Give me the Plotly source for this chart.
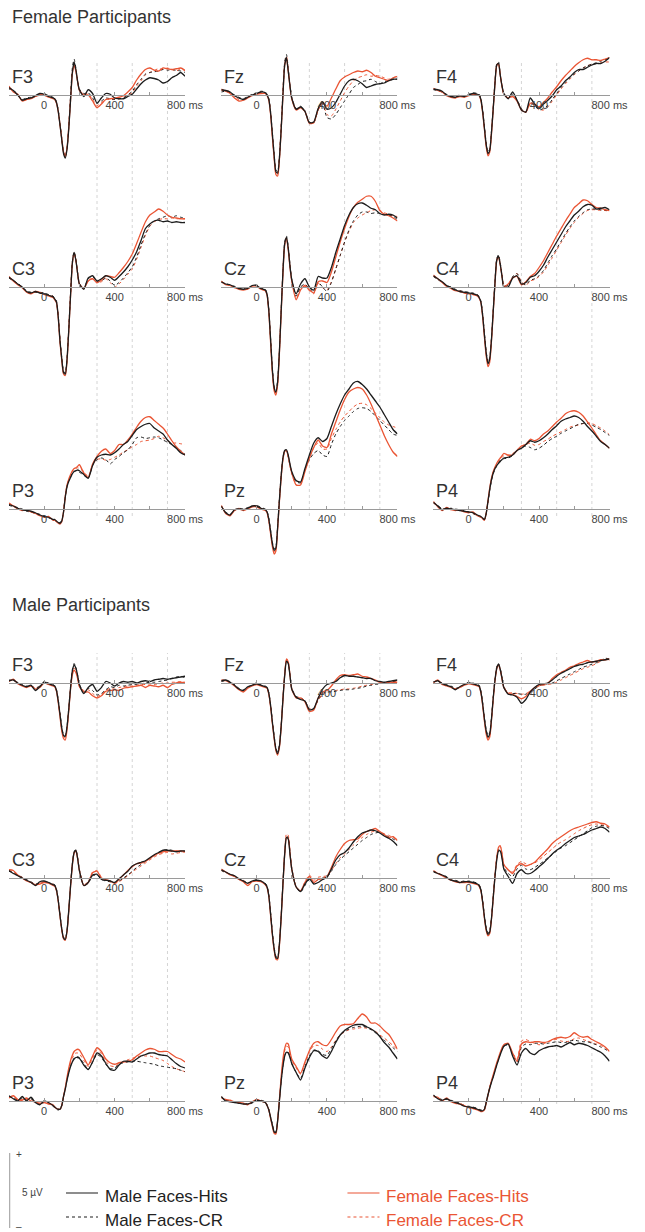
import plotly.graph_objects as go

# ---------------- time axis (ms) ----------------
T = [-200, -175, -150, -125, -100, -75, -50, -25, 0, 25, 50,
     60, 70, 80, 90, 100, 110, 120, 130, 140, 150, 160, 170, 180, 190, 200,
     225, 250, 275, 300, 325, 350, 375, 400, 425, 450, 475, 500, 525, 550, 575, 600,
     625, 650, 675, 700, 725, 750, 775, 800]

# ---------------- amplitudes (µV) ----------------
# fem = Female Participants, mal = Male Participants
# mhit = Male Faces-Hits, mcr = Male Faces-CR, fhit = Female Faces-Hits, fcr = Female Faces-CR

fem_F3_mhit = [0.5,0.3,0.0,-0.35,-0.25,-0.2,-0.05,0.1,0.05,-0.1,-0.2] + [-0.25,-0.5,-1.1,-2.0,-3.0,-3.9,-4.2,-3.6,-2.2,-0.3,1.5,2.2,1.7,0.9,0.35] + [-0.1,0.35,0.1,-0.55,-0.2,0.1,0.05,-0.2,-0.25,-0.25,-0.1,0.05,0.4,0.75,1.0,1.15,1.1,1.0,0.8,0.9,1.15,1.3,1.5,1.25]
fem_F3_mcr = [0.4,0.35,-0.05,-0.3,-0.2,-0.15,-0.1,0.05,0.1,-0.05,-0.15] + [-0.2,-0.45,-1.0,-1.9,-2.9,-3.8,-4.1,-3.5,-2.0,0.0,1.8,2.4,1.8,1.0,0.4] + [0.1,0.15,-0.2,-0.55,-0.4,-0.2,-0.25,-0.3,-0.25,-0.2,0.0,0.25,0.7,1.05,1.4,1.5,1.55,1.6,1.7,1.65,1.7,1.65,1.6,1.5]
fem_F3_fhit = [0.6,0.2,0.05,-0.4,-0.3,-0.25,-0.1,0.0,0.0,-0.15,-0.25] + [-0.3,-0.55,-1.1,-2.0,-2.9,-3.8,-4.1,-3.5,-2.1,-0.3,1.4,2.0,1.6,0.9,0.3] + [0.0,0.0,-0.4,-0.85,-0.6,-0.3,-0.25,-0.2,-0.15,-0.05,0.2,0.5,1.0,1.4,1.7,1.8,1.65,1.6,1.8,1.75,1.7,1.75,1.8,1.65]
fem_F3_fcr = [0.45,0.25,0.0,-0.3,-0.35,-0.2,-0.1,0.05,0.05,-0.1,-0.2] + [-0.25,-0.5,-1.05,-1.95,-2.95,-3.85,-4.15,-3.55,-2.1,-0.2,1.6,2.1,1.65,0.9,0.35] + [0.05,0.1,-0.3,-0.7,-0.5,-0.3,-0.3,-0.3,-0.25,-0.15,0.0,0.15,0.6,0.95,1.35,1.5,1.65,1.75,1.7,1.8,1.7,1.6,1.75,1.6]

fem_Fz_mhit = [0.35,0.3,0.2,-0.05,-0.2,-0.3,-0.15,0.0,0.1,0.2,0.15] + [0.0,-0.3,-1.2,-2.6,-4.0,-5.1,-5.2,-4.2,-2.3,0.0,2.0,2.5,1.6,0.6,-0.2] + [-0.95,-0.8,-1.1,-1.85,-1.8,-0.9,-0.45,-0.95,-0.85,-0.5,0.05,0.6,0.95,1.05,0.95,0.75,0.5,0.6,0.7,0.75,0.8,0.95,1.05,1.05]
fem_Fz_mcr = [0.2,0.25,0.15,0.0,-0.15,-0.25,-0.1,0.05,0.15,0.25,0.2] + [0.05,-0.25,-1.1,-2.5,-3.9,-5.0,-5.1,-4.1,-2.1,0.2,2.2,2.7,1.8,0.7,-0.15] + [-0.9,-0.75,-1.05,-1.8,-1.85,-1.0,-0.6,-1.5,-1.6,-1.3,-0.85,-0.4,0.05,0.5,0.7,0.9,0.95,1.05,0.9,0.75,0.9,0.95,1.05,1.15]
fem_Fz_fhit = [0.4,0.25,0.1,-0.2,-0.4,-0.35,-0.2,-0.05,0.05,0.1,0.1] + [-0.05,-0.35,-1.3,-2.8,-4.2,-5.3,-5.4,-4.3,-2.3,0.0,2.0,2.45,1.6,0.55,-0.25] + [-1.0,-0.85,-1.1,-1.9,-1.85,-0.95,-0.5,-0.75,-0.2,0.4,0.95,1.2,1.35,1.5,1.6,1.55,1.65,1.5,1.25,1.15,1.05,0.95,1.15,1.25]
fem_Fz_fcr = [0.3,0.3,0.2,-0.1,-0.3,-0.3,-0.15,0.0,0.1,0.15,0.1] + [0.0,-0.3,-1.2,-2.7,-4.1,-5.2,-5.3,-4.2,-2.2,0.1,2.1,2.6,1.7,0.6,-0.2] + [-0.95,-0.8,-1.1,-1.85,-1.85,-1.0,-0.55,-1.3,-1.4,-0.95,-0.4,0.15,0.6,0.95,1.15,1.25,1.35,1.25,1.3,1.25,1.15,1.05,1.15,1.25]

fem_F4_mhit = [0.4,0.35,0.25,0.0,-0.1,-0.15,-0.05,-0.1,0.0,0.1,0.05] + [0.0,-0.3,-1.1,-2.2,-3.3,-3.9,-3.7,-2.5,-0.9,0.8,2.0,2.1,1.3,0.6,0.1] + [-0.25,0.2,-0.35,-1.0,-1.15,-0.2,-0.6,-0.9,-0.6,-0.35,-0.05,0.35,0.6,0.95,1.2,1.5,1.7,1.7,1.85,2.0,2.1,2.1,2.25,2.5]
fem_F4_mcr = [0.35,0.3,0.2,0.05,-0.05,-0.1,0.0,-0.05,0.05,0.15,0.1] + [0.05,-0.25,-1.0,-2.1,-3.2,-3.8,-3.6,-2.4,-0.8,0.9,2.1,2.2,1.4,0.6,0.1] + [-0.2,0.05,-0.3,-0.9,-1.1,-0.5,-0.7,-1.0,-0.9,-0.7,-0.3,0.1,0.5,0.85,1.15,1.4,1.6,1.8,1.95,2.05,2.15,2.25,2.35,2.45]
fem_F4_fhit = [0.45,0.3,0.2,-0.05,-0.15,-0.2,-0.1,-0.15,-0.05,0.05,0.0] + [-0.05,-0.35,-1.2,-2.3,-3.45,-4.05,-3.8,-2.6,-0.9,0.8,1.95,2.05,1.3,0.55,0.05] + [-0.2,-0.1,-0.4,-1.0,-1.15,-0.55,-0.6,-0.8,-0.5,-0.2,0.2,0.55,0.95,1.3,1.6,1.9,2.15,2.35,2.45,2.35,2.35,2.3,2.4,2.5]
fem_F4_fcr = [0.4,0.3,0.2,0.0,-0.1,-0.15,-0.05,-0.1,0.0,0.1,0.05] + [0.0,-0.3,-1.1,-2.2,-3.35,-3.95,-3.7,-2.5,-0.85,0.85,2.05,2.15,1.35,0.6,0.1] + [-0.15,-0.05,-0.35,-0.95,-1.1,-0.55,-0.7,-1.0,-1.0,-0.8,-0.4,0.0,0.4,0.75,1.05,1.35,1.6,1.8,1.95,2.05,2.1,2.15,2.2,2.2]

fem_C3_mhit = [0.65,0.45,0.2,0.0,-0.3,-0.4,-0.3,-0.4,-0.45,-0.55,-0.65] + [-0.8,-1.0,-2.0,-3.6,-4.8,-5.7,-5.8,-4.8,-2.8,-0.5,1.6,2.3,1.8,0.9,0.2] + [-0.15,0.6,0.75,0.4,0.55,0.75,0.65,0.45,0.7,1.0,1.35,1.8,2.35,3.1,3.9,4.2,4.4,4.45,4.35,4.4,4.3,4.35,4.3,4.3]
fem_C3_mcr = [0.6,0.4,0.25,0.0,-0.25,-0.35,-0.35,-0.35,-0.4,-0.5,-0.6] + [-0.75,-0.95,-1.9,-3.5,-4.7,-5.6,-5.75,-4.7,-2.7,-0.4,1.7,2.35,1.85,0.95,0.25] + [-0.1,0.55,0.7,0.35,0.4,0.6,0.4,0.1,0.3,0.6,0.95,1.35,2.0,2.8,3.55,4.1,4.4,4.55,4.65,4.75,4.65,4.75,4.65,4.6]
fem_C3_fhit = [0.7,0.4,0.15,-0.05,-0.35,-0.45,-0.3,-0.35,-0.5,-0.6,-0.7] + [-0.85,-1.05,-2.05,-3.7,-4.9,-5.8,-5.9,-4.9,-2.85,-0.55,1.55,2.25,1.8,0.9,0.2] + [-0.1,0.4,0.55,0.3,0.45,0.75,0.7,0.65,0.95,1.3,1.7,2.2,2.9,3.65,4.35,4.8,5.0,5.2,5.05,4.8,4.65,4.6,4.55,4.55]
fem_C3_fcr = [0.6,0.45,0.2,0.0,-0.3,-0.4,-0.35,-0.4,-0.45,-0.55,-0.6] + [-0.8,-1.0,-1.95,-3.55,-4.75,-5.65,-5.75,-4.75,-2.75,-0.45,1.65,2.3,1.8,0.9,0.2] + [-0.1,0.4,0.55,0.25,0.35,0.55,0.3,0.0,0.2,0.5,0.85,1.2,1.85,2.65,3.45,4.05,4.35,4.5,4.55,4.55,4.6,4.55,4.55,4.55]

fem_Cz_mhit = [0.35,0.2,0.15,0.0,-0.1,-0.15,-0.1,0.1,0.1,-0.1,-0.2] + [-0.5,-1.6,-3.5,-5.5,-6.7,-7.0,-6.3,-4.3,-1.6,1.0,2.9,3.3,2.6,1.4,0.5] + [-0.45,0.2,0.55,0.0,-0.2,0.7,0.6,0.6,1.3,2.3,3.2,4.1,4.8,5.3,5.55,5.6,5.45,5.25,5.15,4.9,4.8,4.85,4.8,4.6]
fem_Cz_mcr = [0.3,0.25,0.1,0.05,-0.05,-0.1,-0.15,0.05,0.15,-0.05,-0.15] + [-0.45,-1.5,-3.4,-5.4,-6.6,-6.95,-6.2,-4.2,-1.5,1.1,3.0,3.4,2.7,1.5,0.5] + [-0.6,0.0,0.2,-0.15,-0.35,0.3,0.0,-0.3,0.3,1.2,2.1,3.0,3.8,4.4,4.8,5.0,5.0,4.9,4.95,4.9,4.85,4.8,4.7,4.5]
fem_Cz_fhit = [0.4,0.15,0.1,-0.05,-0.15,-0.2,-0.15,0.05,0.05,-0.15,-0.25] + [-0.55,-1.7,-3.7,-5.7,-6.9,-7.2,-6.5,-4.4,-1.7,0.9,2.8,3.25,2.5,1.3,0.4] + [-0.85,-0.2,0.1,-0.2,-0.4,0.35,0.4,0.3,1.0,2.0,3.0,3.9,4.7,5.3,5.65,5.85,6.05,6.05,5.7,5.1,4.85,4.75,4.6,4.4]
fem_Cz_fcr = [0.35,0.2,0.1,0.0,-0.1,-0.15,-0.1,0.05,0.1,-0.1,-0.2] + [-0.5,-1.6,-3.6,-5.6,-6.8,-7.1,-6.4,-4.3,-1.6,1.0,2.9,3.3,2.6,1.4,0.45] + [-0.75,-0.15,0.05,-0.25,-0.45,0.25,-0.05,-0.2,0.35,1.2,2.1,3.0,3.7,4.3,4.6,4.8,4.95,5.1,5.15,5.1,4.95,4.85,4.75,4.7]

fem_C4_mhit = [0.75,0.55,0.35,0.1,-0.05,-0.2,-0.3,-0.35,-0.4,-0.45,-0.55] + [-0.7,-1.0,-1.9,-3.2,-4.4,-5.1,-4.8,-3.5,-1.6,0.3,1.8,2.05,1.5,0.7,0.0] + [0.0,0.6,0.75,0.2,0.3,0.65,0.75,1.05,1.45,2.0,2.5,3.0,3.5,4.0,4.4,4.8,5.05,5.35,5.5,5.45,5.2,5.25,5.3,5.15]
fem_C4_mcr = [0.7,0.5,0.3,0.1,0.0,-0.15,-0.25,-0.3,-0.35,-0.4,-0.5] + [-0.65,-0.95,-1.8,-3.1,-4.3,-5.0,-4.7,-3.4,-1.5,0.4,1.9,2.15,1.6,0.8,0.1] + [0.1,0.7,0.9,0.3,0.15,0.45,0.55,0.75,1.1,1.6,2.1,2.55,3.05,3.55,4.0,4.4,4.7,4.95,5.15,5.2,5.2,5.15,5.1,5.1]
fem_C4_fhit = [0.8,0.55,0.3,0.05,-0.1,-0.25,-0.3,-0.4,-0.45,-0.5,-0.6] + [-0.75,-1.05,-2.0,-3.35,-4.6,-5.3,-5.0,-3.6,-1.65,0.25,1.75,2.0,1.45,0.7,0.05] + [0.2,0.6,0.7,0.15,0.35,0.7,0.9,1.3,1.75,2.3,2.85,3.4,3.9,4.4,4.85,5.3,5.55,5.8,5.75,5.5,5.3,5.25,5.15,5.1]
fem_C4_fcr = [0.7,0.55,0.35,0.1,-0.05,-0.2,-0.25,-0.35,-0.4,-0.45,-0.5] + [-0.7,-1.0,-1.85,-3.15,-4.35,-5.05,-4.75,-3.45,-1.55,0.35,1.85,2.1,1.55,0.75,0.05] + [0.1,0.65,0.9,0.35,0.1,0.4,0.5,0.7,1.0,1.45,1.95,2.45,2.95,3.45,3.9,4.3,4.65,4.9,5.1,5.15,5.15,5.1,5.1,5.05]

fem_P3_mhit = [0.3,0.2,0.05,-0.05,-0.1,-0.15,-0.25,-0.4,-0.5,-0.55,-0.7] + [-0.7,-0.8,-0.9,-0.95,-0.8,-0.2,0.8,1.5,1.85,2.1,2.35,2.5,2.55,2.6,2.55] + [2.3,2.05,2.9,3.45,3.6,3.65,3.6,3.75,4.0,4.3,4.5,4.9,5.3,5.5,5.65,5.7,5.4,5.2,5.0,4.6,4.3,4.05,3.75,3.6]
fem_P3_mcr = [0.25,0.15,0.1,0.0,-0.15,-0.2,-0.3,-0.35,-0.45,-0.6,-0.65] + [-0.75,-0.85,-0.9,-0.9,-0.75,-0.15,0.85,1.55,1.9,2.15,2.4,2.5,2.55,2.5,2.45] + [2.25,2.05,2.9,3.3,3.4,3.3,3.0,3.3,3.5,3.75,3.95,4.3,4.75,4.8,4.7,4.75,4.8,4.75,4.6,4.45,4.3,4.1,3.9,3.65]
fem_P3_fhit = [0.4,0.2,0.0,-0.1,-0.05,-0.2,-0.3,-0.45,-0.55,-0.5,-0.75] + [-0.75,-0.85,-0.95,-1.0,-0.85,-0.2,0.85,1.6,2.0,2.3,2.55,2.7,2.75,2.85,2.95] + [2.4,2.1,3.0,3.5,3.85,4.0,3.7,3.9,4.3,4.3,4.6,5.0,5.45,5.85,6.1,6.15,5.9,5.65,5.4,5.0,4.55,4.15,3.85,3.6]
fem_P3_fcr = [0.35,0.25,0.05,-0.05,-0.1,-0.2,-0.25,-0.4,-0.5,-0.55,-0.7] + [-0.7,-0.8,-0.9,-0.95,-0.8,-0.15,0.9,1.6,1.95,2.25,2.5,2.65,2.7,2.75,2.7] + [2.5,2.15,2.95,3.3,3.35,3.25,3.3,3.45,3.6,3.8,3.95,4.15,4.3,4.5,4.55,4.6,4.7,4.85,4.75,4.55,4.4,4.4,4.35,4.3]

fem_Pz_mhit = [0.2,-0.25,-0.4,-0.05,0.0,-0.05,0.05,0.2,0.2,0.05,-0.05] + [-0.2,-0.7,-1.5,-2.3,-2.75,-2.6,-1.2,0.6,2.2,3.4,3.9,3.95,3.6,3.0,2.5] + [1.9,1.8,2.7,3.6,4.4,4.75,4.5,4.7,5.5,6.3,7.0,7.6,8.0,8.4,8.5,8.3,8.0,7.6,7.2,6.8,6.3,5.8,5.3,5.0]
fem_Pz_mcr = [0.15,-0.2,-0.35,-0.1,0.05,0.0,0.1,0.15,0.25,0.1,0.0] + [-0.15,-0.6,-1.4,-2.2,-2.65,-2.5,-1.1,0.7,2.3,3.45,3.9,3.9,3.5,2.9,2.4] + [1.8,1.75,2.6,3.3,3.7,3.9,3.6,3.5,4.3,5.0,5.5,5.9,6.2,6.5,6.7,6.75,6.7,6.5,6.2,5.9,5.6,5.3,5.0,4.9]
fem_Pz_fhit = [0.25,-0.3,-0.45,-0.1,0.0,-0.1,0.0,0.15,0.15,0.0,-0.1] + [-0.25,-0.8,-1.65,-2.5,-3.0,-2.8,-1.3,0.5,2.1,3.3,3.85,3.9,3.5,2.9,2.4] + [1.6,1.6,2.5,3.4,4.1,4.6,4.2,4.1,5.0,5.8,6.6,7.3,7.8,8.0,8.1,8.0,7.6,7.0,6.3,5.6,4.9,4.3,3.8,3.5]
fem_Pz_fcr = [0.2,-0.25,-0.4,-0.05,0.05,-0.05,0.05,0.2,0.2,0.05,-0.05] + [-0.2,-0.75,-1.55,-2.4,-2.85,-2.7,-1.25,0.55,2.15,3.35,3.85,3.9,3.5,2.9,2.4] + [1.6,1.7,2.6,3.4,4.1,4.4,4.0,4.0,4.7,5.3,5.8,6.2,6.5,6.8,7.0,7.05,6.95,6.7,6.4,6.1,5.8,5.6,5.5,5.4]

fem_P4_mhit = [0.45,0.2,-0.05,0.05,0.0,-0.05,-0.1,-0.15,-0.2,-0.25,-0.4] + [-0.45,-0.5,-0.6,-0.7,-0.3,0.5,1.3,1.95,2.4,2.7,2.9,3.05,3.2,3.3,3.4] + [3.45,3.6,3.9,4.05,4.3,4.55,4.45,4.55,4.75,5.0,5.3,5.55,5.85,6.0,6.1,6.2,6.1,5.85,5.5,5.2,4.85,4.5,4.3,4.05]
fem_P4_mcr = [0.4,0.25,0.0,0.0,0.05,0.0,-0.05,-0.1,-0.2,-0.3,-0.45] + [-0.5,-0.55,-0.65,-0.7,-0.35,0.45,1.25,1.9,2.35,2.65,2.85,3.0,3.15,3.25,3.35] + [3.4,3.55,3.9,4.1,4.2,4.1,3.95,4.05,4.25,4.5,4.7,4.85,5.05,5.2,5.35,5.5,5.65,5.7,5.7,5.6,5.45,5.3,5.1,4.9]
fem_P4_fhit = [0.5,0.15,-0.1,0.1,-0.05,-0.1,-0.05,-0.2,-0.25,-0.2,-0.45] + [-0.5,-0.55,-0.65,-0.75,-0.3,0.55,1.4,2.05,2.5,2.8,3.05,3.25,3.4,3.55,3.7] + [3.6,3.6,3.9,4.2,4.3,4.65,4.55,4.7,5.0,5.2,5.5,5.8,6.05,6.35,6.5,6.55,6.45,6.2,5.8,5.4,4.95,4.55,4.3,4.05]
fem_P4_fcr = [0.4,0.2,0.0,0.05,0.0,-0.05,-0.1,-0.15,-0.2,-0.3,-0.4] + [-0.45,-0.5,-0.6,-0.7,-0.3,0.5,1.35,2.0,2.45,2.75,2.95,3.15,3.3,3.45,3.55] + [3.55,3.7,3.95,4.2,4.3,4.4,4.25,4.3,4.5,4.65,4.85,5.0,5.15,5.3,5.45,5.55,5.6,5.7,5.75,5.7,5.55,5.4,5.2,4.95]

mal_F3_mhit = [0.15,0.2,0.0,-0.15,-0.25,-0.15,-0.5,-0.25,0.05,-0.05,-0.15] + [-0.2,-0.5,-1.2,-2.1,-3.0,-3.5,-3.55,-2.9,-1.7,-0.3,0.8,1.2,1.0,0.5,-0.1] + [-0.7,-0.3,-0.1,-0.55,-0.3,0.1,0.0,-0.2,0.0,0.1,0.05,0.1,0.0,0.1,0.15,0.1,0.2,0.25,0.3,0.25,0.3,0.35,0.4,0.45]
mal_F3_mcr = [0.2,0.15,0.05,-0.1,-0.2,-0.2,-0.35,-0.2,0.1,0.0,-0.1] + [-0.2,-0.45,-1.1,-2.0,-2.9,-3.45,-3.5,-2.85,-1.6,-0.2,0.9,1.3,1.05,0.5,-0.1] + [-0.6,-0.35,-0.5,-0.8,-0.7,-0.45,-0.25,-0.3,-0.15,-0.2,-0.15,-0.1,-0.1,-0.05,0.0,0.05,0.05,0.1,0.15,0.2,0.3,0.4,0.45,0.35]
mal_F3_fhit = [0.1,0.25,-0.05,-0.2,-0.3,-0.2,-0.4,-0.3,0.0,-0.1,-0.2] + [-0.25,-0.55,-1.3,-2.25,-3.2,-3.7,-3.8,-3.1,-1.8,-0.4,0.55,0.85,0.7,0.3,-0.25] + [-0.6,-0.6,-0.85,-1.0,-0.85,-0.55,-0.5,-0.45,-0.5,-0.35,-0.3,-0.25,-0.2,-0.15,-0.3,-0.15,-0.2,-0.25,-0.15,-0.3,-0.1,0.0,0.05,0.0]
mal_F3_fcr = [0.15,0.2,0.0,-0.15,-0.25,-0.2,-0.3,-0.25,0.05,-0.05,-0.15] + [-0.2,-0.5,-1.2,-2.15,-3.1,-3.6,-3.65,-3.0,-1.75,-0.35,0.7,1.0,0.85,0.4,-0.2] + [-0.5,-0.45,-0.7,-0.9,-0.75,-0.5,-0.35,-0.4,-0.3,-0.25,-0.2,-0.2,-0.15,-0.1,-0.1,-0.05,-0.1,-0.05,0.0,0.0,0.05,0.05,0.1,0.05]

mal_Fz_mhit = [0.15,0.2,0.05,-0.15,-0.4,-0.5,-0.25,-0.15,-0.05,-0.15,-0.25] + [-0.3,-0.7,-1.5,-2.6,-3.6,-4.4,-4.7,-4.2,-2.9,-1.1,0.5,1.45,1.3,0.5,-0.4] + [-0.95,-1.1,-1.2,-1.8,-1.7,-1.0,-0.4,-0.1,0.0,0.1,0.35,0.5,0.45,0.45,0.4,0.35,0.3,0.3,0.15,0.1,0.05,0.1,0.15,0.2]
mal_Fz_mcr = [0.1,0.15,0.1,-0.1,-0.35,-0.45,-0.3,-0.1,0.0,-0.1,-0.2] + [-0.3,-0.65,-1.45,-2.5,-3.5,-4.3,-4.6,-4.1,-2.8,-1.0,0.6,1.5,1.35,0.55,-0.35] + [-0.9,-1.0,-1.2,-1.75,-1.7,-1.1,-0.7,-0.6,-0.6,-0.55,-0.5,-0.45,-0.45,-0.4,-0.35,-0.3,-0.2,-0.15,-0.1,-0.05,0.0,0.05,0.1,0.15]
mal_Fz_fhit = [0.2,0.15,0.0,-0.2,-0.45,-0.6,-0.35,-0.2,-0.1,-0.2,-0.3] + [-0.35,-0.75,-1.6,-2.7,-3.7,-4.5,-4.8,-4.3,-2.95,-1.1,0.55,1.6,1.4,0.55,-0.4] + [-1.0,-1.0,-1.25,-1.9,-1.8,-1.0,-0.6,-0.5,-0.2,0.2,0.5,0.55,0.5,0.55,0.6,0.45,0.4,0.3,0.2,0.05,0.0,0.05,0.05,0.05]
mal_Fz_fcr = [0.15,0.2,0.05,-0.1,-0.4,-0.5,-0.3,-0.15,-0.05,-0.15,-0.25] + [-0.3,-0.7,-1.5,-2.6,-3.6,-4.4,-4.7,-4.2,-2.85,-1.0,0.6,1.55,1.4,0.55,-0.35] + [-0.95,-0.95,-1.2,-1.7,-1.75,-1.15,-0.8,-0.6,-0.55,-0.5,-0.45,-0.4,-0.4,-0.35,-0.3,-0.2,-0.15,-0.1,-0.05,0.0,0.0,0.05,0.1,0.15]

mal_F4_mhit = [0.05,0.15,-0.05,-0.15,-0.25,-0.45,-0.25,-0.1,0.0,-0.05,-0.15] + [-0.2,-0.6,-1.4,-2.4,-3.2,-3.6,-3.4,-2.4,-1.0,0.2,1.0,1.25,0.9,0.3,-0.3] + [-0.75,-0.8,-0.95,-1.35,-1.1,-0.6,-0.3,-0.1,-0.05,0.0,0.2,0.45,0.65,0.8,0.95,1.1,1.2,1.25,1.35,1.4,1.45,1.5,1.55,1.6]
mal_F4_mcr = [0.1,0.1,0.0,-0.1,-0.2,-0.35,-0.3,-0.15,0.05,0.0,-0.1] + [-0.15,-0.55,-1.3,-2.3,-3.1,-3.5,-3.3,-2.3,-0.9,0.3,1.1,1.3,0.95,0.35,-0.25] + [-0.7,-0.7,-0.7,-0.75,-0.75,-0.6,-0.4,-0.2,-0.1,-0.05,0.0,0.15,0.3,0.45,0.6,0.75,0.9,1.05,1.15,1.25,1.35,1.5,1.65,1.6]
mal_F4_fhit = [0.0,0.2,-0.1,-0.2,-0.3,-0.4,-0.3,-0.15,-0.05,-0.1,-0.2] + [-0.25,-0.65,-1.5,-2.55,-3.4,-3.8,-3.6,-2.5,-1.05,0.15,0.95,1.2,0.85,0.25,-0.3] + [-0.7,-0.75,-0.9,-1.05,-0.9,-0.55,-0.3,-0.15,-0.1,0.0,0.3,0.55,0.7,0.85,1.05,1.15,1.3,1.4,1.5,1.4,1.45,1.55,1.55,1.6]
mal_F4_fcr = [0.05,0.15,-0.05,-0.15,-0.25,-0.4,-0.25,-0.1,0.0,-0.05,-0.15] + [-0.2,-0.6,-1.4,-2.45,-3.3,-3.7,-3.5,-2.45,-1.0,0.2,1.0,1.25,0.9,0.3,-0.25] + [-0.65,-0.65,-0.7,-0.75,-0.7,-0.55,-0.35,-0.2,-0.15,-0.1,-0.05,0.05,0.2,0.35,0.5,0.65,0.8,0.95,1.05,1.15,1.3,1.45,1.55,1.5]

mal_C3_mhit = [0.5,0.3,0.15,0.0,-0.15,-0.3,-0.5,-0.25,-0.2,-0.3,-0.45] + [-0.5,-0.8,-1.5,-2.5,-3.4,-4.0,-4.1,-3.5,-2.1,-0.5,0.9,1.7,1.85,1.3,0.5] + [-0.5,-0.3,0.2,0.25,-0.1,-0.15,-0.2,-0.3,-0.05,0.2,0.45,0.8,0.95,1.05,1.15,1.35,1.55,1.7,1.85,1.85,1.8,1.75,1.8,1.8]
mal_C3_mcr = [0.45,0.35,0.2,0.05,-0.1,-0.25,-0.4,-0.35,-0.25,-0.3,-0.4] + [-0.45,-0.75,-1.45,-2.45,-3.35,-3.95,-4.05,-3.45,-2.05,-0.45,0.95,1.75,1.9,1.35,0.55] + [-0.5,-0.35,0.15,0.2,-0.1,-0.2,-0.25,-0.3,-0.2,0.0,0.2,0.45,0.7,0.9,1.1,1.3,1.5,1.7,1.85,1.9,1.85,1.8,1.75,1.8]
mal_C3_fhit = [0.55,0.5,0.2,0.0,-0.2,-0.3,-0.45,-0.4,-0.3,-0.35,-0.5] + [-0.55,-0.85,-1.55,-2.55,-3.45,-4.05,-4.15,-3.55,-2.15,-0.55,0.85,1.65,1.8,1.3,0.5] + [-0.5,-0.3,0.35,0.45,0.0,-0.1,-0.2,-0.35,-0.1,0.2,0.5,0.75,0.95,1.0,1.1,1.3,1.5,1.65,1.75,1.8,1.8,1.8,1.8,1.75]
mal_C3_fcr = [0.5,0.4,0.15,0.05,-0.1,-0.3,-0.45,-0.3,-0.25,-0.3,-0.4] + [-0.5,-0.8,-1.5,-2.5,-3.4,-4.0,-4.1,-3.5,-2.1,-0.5,0.9,1.7,1.85,1.3,0.55] + [-0.45,-0.25,0.4,0.5,0.05,-0.15,-0.25,-0.35,-0.25,-0.05,0.15,0.4,0.6,0.8,1.0,1.2,1.4,1.55,1.65,1.7,1.6,1.65,1.7,1.75]

mal_Cz_mhit = [0.55,0.4,0.25,0.15,-0.05,-0.2,-0.35,-0.2,-0.15,-0.2,-0.4] + [-0.6,-1.2,-2.4,-3.7,-4.7,-5.3,-5.35,-4.4,-2.6,-0.4,1.6,2.7,2.6,1.6,0.6] + [-0.6,-0.9,-0.4,-0.05,-0.4,-0.3,-0.1,0.05,0.6,1.2,1.55,1.7,2.0,2.4,2.75,3.0,3.1,3.2,3.15,3.0,2.8,2.65,2.45,2.15]
mal_Cz_mcr = [0.5,0.35,0.25,0.1,-0.1,-0.2,-0.3,-0.25,-0.1,-0.2,-0.35] + [-0.55,-1.1,-2.3,-3.6,-4.6,-5.2,-5.25,-4.3,-2.5,-0.3,1.7,2.8,2.7,1.7,0.65] + [-0.6,-0.95,-0.5,-0.1,-0.35,-0.1,0.0,0.05,0.45,0.9,1.25,1.5,1.75,2.0,2.25,2.5,2.7,2.9,3.0,3.05,2.9,2.75,2.6,2.45]
mal_Cz_fhit = [0.6,0.4,0.2,0.1,-0.1,-0.25,-0.5,-0.25,-0.2,-0.25,-0.45] + [-0.65,-1.25,-2.5,-3.8,-4.8,-5.4,-5.45,-4.5,-2.65,-0.45,1.55,2.7,2.65,1.65,0.6] + [-0.6,-0.85,-0.3,0.1,-0.3,-0.1,-0.05,0.1,0.7,1.4,1.9,2.3,2.5,2.55,2.6,2.9,3.1,3.2,3.3,3.1,2.9,2.7,2.75,2.5]
mal_Cz_fcr = [0.5,0.4,0.25,0.15,-0.05,-0.15,-0.35,-0.2,-0.15,-0.2,-0.4] + [-0.6,-1.2,-2.4,-3.7,-4.7,-5.3,-5.35,-4.4,-2.5,-0.3,1.8,2.95,2.85,1.8,0.7] + [-0.55,-0.9,-0.25,0.2,-0.15,0.05,0.1,0.15,0.5,0.95,1.35,1.6,1.9,2.2,2.45,2.7,2.9,3.05,3.15,3.1,2.95,2.85,2.7,2.55]

mal_C4_mhit = [0.45,0.3,0.2,0.05,-0.15,-0.2,-0.3,-0.25,-0.25,-0.3,-0.4] + [-0.5,-0.8,-1.6,-2.6,-3.4,-3.75,-3.6,-2.7,-1.3,0.1,1.2,1.8,1.8,1.3,0.6] + [0.1,-0.35,0.3,0.55,0.3,0.3,0.5,0.75,1.0,1.3,1.6,1.85,2.05,2.3,2.5,2.7,2.8,2.9,3.05,3.2,3.3,3.4,3.3,3.05]
mal_C4_mcr = [0.4,0.3,0.2,0.1,-0.1,-0.15,-0.25,-0.2,-0.2,-0.25,-0.35] + [-0.45,-0.75,-1.5,-2.5,-3.3,-3.65,-3.5,-2.6,-1.2,0.2,1.3,1.9,1.9,1.4,0.7] + [0.3,0.1,0.6,0.85,0.6,0.55,0.7,0.9,1.1,1.35,1.55,1.8,2.0,2.15,2.35,2.55,2.75,2.95,3.15,3.35,3.45,3.5,3.45,3.3]
mal_C4_fhit = [0.5,0.3,0.15,0.0,-0.15,-0.25,-0.3,-0.3,-0.3,-0.35,-0.45] + [-0.55,-0.85,-1.65,-2.7,-3.5,-3.85,-3.7,-2.75,-1.3,0.15,1.35,2.05,2.15,1.6,0.9] + [0.55,0.3,0.8,0.95,0.8,0.9,1.05,1.35,1.65,1.95,2.3,2.55,2.75,2.95,3.15,3.3,3.4,3.5,3.6,3.7,3.75,3.65,3.6,3.4]
mal_C4_fcr = [0.45,0.35,0.2,0.05,-0.1,-0.2,-0.25,-0.25,-0.25,-0.3,-0.4] + [-0.5,-0.8,-1.55,-2.55,-3.35,-3.7,-3.55,-2.65,-1.2,0.2,1.35,2.0,2.1,1.6,0.9] + [0.5,0.4,0.9,1.1,0.95,0.9,1.0,1.2,1.45,1.7,1.95,2.2,2.4,2.55,2.75,2.95,3.15,3.3,3.45,3.55,3.6,3.55,3.5,3.4]

mal_P3_mhit = [0.35,0.15,0.0,0.3,0.0,0.25,-0.1,-0.25,0.0,-0.1,-0.3] + [-0.4,-0.5,-0.55,-0.55,-0.3,0.3,0.8,1.4,1.9,2.3,2.6,2.8,2.9,2.9,2.85] + [2.4,2.1,2.6,3.2,3.0,2.5,2.1,2.05,2.4,2.65,2.65,2.6,2.8,3.0,3.1,3.2,3.2,3.1,3.05,3.0,2.75,2.5,2.3,2.2]
mal_P3_mcr = [0.3,0.2,0.05,0.2,0.05,0.15,-0.05,-0.2,-0.1,-0.15,-0.35] + [-0.45,-0.55,-0.6,-0.55,-0.3,0.25,0.8,1.45,1.95,2.35,2.65,2.85,2.95,2.95,2.9] + [2.5,2.1,2.6,3.1,2.9,2.45,2.15,2.2,2.45,2.55,2.6,2.65,2.65,2.6,2.55,2.5,2.45,2.35,2.3,2.25,2.2,2.15,2.05,1.95]
mal_P3_fhit = [0.2,0.35,0.1,0.05,0.2,0.0,-0.05,-0.15,-0.1,-0.2,-0.25] + [-0.4,-0.5,-0.55,-0.55,-0.3,0.3,0.9,1.6,2.2,2.7,3.05,3.3,3.4,3.45,3.4] + [2.9,2.4,3.0,3.55,3.3,2.8,2.55,2.45,2.55,2.6,2.65,2.75,3.0,3.2,3.4,3.5,3.45,3.3,3.3,3.3,3.1,2.9,2.8,2.6]
mal_P3_fcr = [0.25,0.25,0.05,0.1,0.1,0.1,-0.05,-0.2,-0.05,-0.15,-0.3] + [-0.4,-0.5,-0.55,-0.55,-0.3,0.3,0.85,1.5,2.05,2.5,2.85,3.1,3.2,3.2,3.15] + [2.7,2.3,2.85,3.4,3.15,2.65,2.35,2.3,2.5,2.6,2.75,2.85,2.95,3.0,3.0,3.0,2.9,2.8,2.7,2.5,2.3,2.15,2.05,1.95]

mal_Pz_mhit = [0.3,0.0,-0.05,-0.1,-0.15,-0.2,-0.2,-0.1,0.05,0.0,-0.1] + [-0.3,-0.6,-1.1,-1.6,-2.05,-2.1,-1.3,0.0,1.3,2.3,3.0,3.25,3.2,2.9,2.5] + [1.9,1.4,2.2,2.9,3.35,3.3,3.0,2.85,3.3,3.9,4.4,4.7,4.9,5.05,5.1,5.1,4.95,4.8,4.6,4.3,3.9,3.6,3.2,2.8]
mal_Pz_mcr = [0.25,0.05,0.0,-0.1,-0.1,-0.15,-0.2,-0.15,0.0,0.05,-0.05] + [-0.25,-0.55,-1.05,-1.55,-2.0,-2.05,-1.25,0.05,1.35,2.35,3.05,3.3,3.25,2.95,2.5] + [1.9,1.5,2.3,3.0,3.4,3.35,3.1,3.05,3.5,4.0,4.4,4.65,4.8,4.9,4.95,5.0,4.9,4.75,4.55,4.3,4.05,3.8,3.55,3.3]
mal_Pz_fhit = [0.2,0.1,0.05,-0.05,-0.1,-0.15,-0.25,-0.05,0.1,0.0,-0.1] + [-0.3,-0.6,-1.15,-1.7,-2.15,-2.2,-1.3,0.1,1.6,2.8,3.5,3.85,3.8,3.3,2.8] + [2.3,1.85,2.6,3.35,3.85,3.95,3.75,3.7,4.1,4.6,5.0,5.1,5.1,5.15,5.5,5.8,5.6,5.2,5.2,5.0,4.7,4.45,4.0,3.45]
mal_Pz_fcr = [0.3,0.05,-0.05,-0.1,-0.15,-0.2,-0.2,-0.1,0.05,0.0,-0.1] + [-0.3,-0.6,-1.1,-1.65,-2.1,-2.15,-1.3,0.05,1.5,2.6,3.35,3.65,3.6,3.15,2.7] + [2.2,1.8,2.5,3.25,3.7,3.7,3.45,3.3,3.6,4.05,4.4,4.6,4.75,4.8,4.85,4.9,4.85,4.8,4.65,4.4,4.2,3.95,3.7,3.4]

mal_P4_mhit = [0.4,0.15,0.05,0.15,0.0,-0.1,-0.2,-0.35,-0.4,-0.45,-0.55] + [-0.6,-0.65,-0.65,-0.55,-0.1,0.4,0.85,1.25,1.6,2.0,2.4,2.75,3.1,3.4,3.65] + [3.8,3.0,2.4,3.2,3.5,3.2,3.1,3.35,3.5,3.6,3.65,3.7,3.6,3.75,3.9,3.75,3.85,3.8,3.7,3.55,3.4,3.25,3.0,2.65]
mal_P4_mcr = [0.35,0.2,0.1,0.1,0.05,-0.05,-0.15,-0.3,-0.35,-0.4,-0.5] + [-0.55,-0.6,-0.6,-0.5,-0.05,0.45,0.9,1.3,1.65,2.05,2.45,2.8,3.15,3.45,3.65] + [3.75,3.1,2.6,3.6,3.8,3.75,3.85,3.85,3.8,3.85,3.9,3.95,3.9,3.9,4.0,4.05,4.0,3.95,3.95,3.85,3.75,3.6,3.45,3.3]
mal_P4_fhit = [0.3,0.25,0.0,0.2,-0.05,-0.15,-0.2,-0.3,-0.45,-0.5,-0.6] + [-0.65,-0.7,-0.7,-0.6,-0.15,0.4,0.9,1.35,1.75,2.15,2.55,2.9,3.25,3.55,3.75] + [3.85,3.2,2.65,3.8,3.95,3.9,3.95,3.95,3.9,3.95,4.1,4.2,4.25,4.2,4.3,4.55,4.35,4.25,4.3,4.1,3.95,3.8,3.6,3.3]
mal_P4_fcr = [0.35,0.2,0.05,0.15,0.0,-0.1,-0.15,-0.3,-0.4,-0.45,-0.55] + [-0.6,-0.65,-0.65,-0.55,-0.1,0.4,0.9,1.35,1.7,2.1,2.5,2.85,3.2,3.5,3.7] + [3.8,3.2,2.8,4.0,4.1,3.95,3.85,3.75,3.8,3.95,4.05,4.1,4.0,3.95,4.0,4.15,4.2,4.1,4.0,3.9,3.8,3.7,3.55,3.35]

# ---------------- labels ----------------
SECTION_TITLES = {"fem": "Female Participants", "mal": "Male Participants"}
CHANNELS = [["F3", "Fz", "F4"], ["C3", "Cz", "C4"], ["P3", "Pz", "P4"]]
CONDITIONS = ["fcr", "mcr", "fhit", "mhit"]  # drawing order
COND_NAMES = {"mhit": "Male Faces-Hits", "mcr": "Male Faces-CR",
              "fhit": "Female Faces-Hits", "fcr": "Female Faces-CR"}
TICK_VALS = [0, 200, 400, 600, 800]
TICK_TEXT = ["0", "", "400", "", "800 ms"]
MARKER_TIMES = [300, 500, 700]

# ---------------- styling / geometry ----------------
W, H = 645, 1232
PX_PER_UV = 15.0
COL_LEFT = [9.2, 228.0, 446.5]
COL_SPAN = 181.5
ROW_ZERO = {"fem": [95, 287, 509], "mal": [683, 878, 1101]}
ROW_RANGE = [(-6.0, 4.0), (-7.5, 7.0), (-3.5, 9.0)]
MARK_SPAN = {"fem": (62, 516), "mal": (653, 1104)}
TITLE_Y = {"fem": 17, "mal": 605}

BLACK = "#1c1c1c"
RED = "#ea5534"
AXC = "#9a9a9a"
TXT = "#333333"
FONT = "Liberation Sans, Arial, sans-serif"
STYLE = {
    "mhit": dict(color=BLACK, width=1.3, dash="solid"),
    "mcr": dict(color=BLACK, width=1.0, dash="dot"),
    "fhit": dict(color=RED, width=1.3, dash="solid"),
    "fcr": dict(color=RED, width=1.0, dash="dot"),
}

def py(px):
    return 1 - px / H

def pxx(px):
    return px / W

fig = go.Figure()
layout = {}
annotations = []
shapes = []
n = 0
for sec in ["fem", "mal"]:
    col_xref = {}
    for r in range(3):
        lo, hi = ROW_RANGE[r]
        y0 = ROW_ZERO[sec][r]
        top = y0 - hi * PX_PER_UV
        bot = y0 - lo * PX_PER_UV
        for c in range(3):
            n += 1
            ch = CHANNELS[r][c]
            xname = "xaxis" if n == 1 else f"xaxis{n}"
            yname = "yaxis" if n == 1 else f"yaxis{n}"
            xref = "x" if n == 1 else f"x{n}"
            yref = "y" if n == 1 else f"y{n}"
            layout[xname] = dict(
                domain=[pxx(COL_LEFT[c]), pxx(COL_LEFT[c] + COL_SPAN)],
                range=[-200, 800], anchor="free", position=py(y0),
                showline=True, linecolor=AXC, linewidth=1,
                ticks="inside", ticklen=3, tickcolor=AXC, tickwidth=1,
                tickvals=TICK_VALS, ticktext=TICK_TEXT,
                tickfont=dict(size=11, color="#444444", family=FONT),
                showgrid=False, zeroline=False, fixedrange=True,
            )
            layout[yname] = dict(
                domain=[py(bot), py(top)], range=[lo, hi], anchor=xref,
                visible=False, showgrid=False, zeroline=False, fixedrange=True,
            )
            for cond in CONDITIONS:
                vals = globals()[f"{sec}_{ch}_{cond}"]
                assert len(vals) == len(T), (sec, ch, cond, len(vals))
                st = STYLE[cond]
                fig.add_trace(go.Scatter(
                    x=T, y=vals, xaxis=xref, yaxis=yref, mode="lines",
                    name=COND_NAMES[cond], showlegend=False, hoverinfo="skip",
                    line=dict(color=st["color"], width=st["width"], dash=st["dash"],
                              shape="spline", smoothing=0.6),
                ))
            annotations.append(dict(
                text=ch, x=pxx(COL_LEFT[c] + 1), y=py(y0 - 18), xref="paper", yref="paper",
                xanchor="left", yanchor="middle", showarrow=False,
                font=dict(size=18, color=TXT, family=FONT),
            ))
            if r == 0:
                col_xref[c] = xref
    # vertical dotted marker lines spanning the column
    ytop, ybot = MARK_SPAN[sec]
    for c in range(3):
        for t in MARKER_TIMES:
            shapes.append(dict(type="line", xref=col_xref[c], yref="paper",
                               x0=t, x1=t, y0=py(ybot), y1=py(ytop),
                               line=dict(color="#c9c9c9", width=0.8, dash="dot"), layer="below"))
    annotations.append(dict(
        text=SECTION_TITLES[sec], x=pxx(10), y=py(TITLE_Y[sec]), xref="paper", yref="paper",
        xanchor="left", yanchor="middle", showarrow=False,
        font=dict(size=18, color=TXT, family=FONT),
    ))

# ---------------- scale bar & legend ----------------
shapes.append(dict(type="line", xref="paper", yref="paper", x0=pxx(10), x1=pxx(10),
                   y0=py(1228), y1=py(1153), line=dict(color=AXC, width=1)))
annotations += [
    dict(text="+", x=pxx(14), y=py(1154), xanchor="left", yanchor="middle"),
    dict(text="–", x=pxx(14), y=py(1226), xanchor="left", yanchor="middle"),
    dict(text="5 µV", x=pxx(21), y=py(1192), xanchor="left", yanchor="middle"),
]
for a in annotations[-3:]:
    a.update(xref="paper", yref="paper", showarrow=False,
             font=dict(size=10, color="#444444", family=FONT))

LEGEND_ITEMS = [("mhit", 68, 1193), ("mcr", 68, 1217), ("fhit", 358, 1193), ("fcr", 358, 1217)]
for cond, lx, ly in LEGEND_ITEMS:
    st = STYLE[cond]
    shapes.append(dict(type="line", xref="paper", yref="paper",
                       x0=pxx(lx), x1=pxx(lx + 33), y0=py(ly), y1=py(ly),
                       line=dict(color=st["color"], width=1.2, dash=st["dash"])))
    annotations.append(dict(
        text=COND_NAMES[cond], x=pxx(lx + 38), y=py(ly + 3), xref="paper", yref="paper",
        xanchor="left", yanchor="middle", showarrow=False,
        font=dict(size=17, color=(RED if cond.startswith("f") else "#222222"), family=FONT),
    ))

fig.update_layout(
    width=W, height=H, margin=dict(l=0, r=0, t=0, b=0),
    paper_bgcolor="white", plot_bgcolor="rgba(0,0,0,0)",
    showlegend=False, annotations=annotations, shapes=shapes,
    font=dict(family=FONT),
    **layout,
)
fig.write_html(
    "out.html",
    config={"displayModeBar": False},
    post_script="document.body.style.margin='0';document.body.style.overflow='hidden';",
)
